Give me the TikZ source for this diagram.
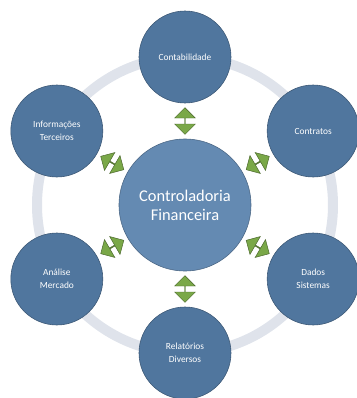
\documentclass[tikz,border=0pt]{standalone}
\usepackage{fontspec}
\setmainfont{Carlito}
\usetikzlibrary{shapes.arrows}

\definecolor{ringgray}{RGB}{223,227,235}
\definecolor{bubbleblue}{RGB}{80,118,158}
\definecolor{hubblue}{RGB}{100,138,178}
\definecolor{arrowgreen}{RGB}{122,168,72}

\begin{document}
\begin{tikzpicture}[
		bubble/.style={circle, fill=bubbleblue, draw=bubbleblue!75!black, line width=0.5pt,
			minimum size=2.76cm, inner sep=0pt, text=white, align=center,
			font=\fontsize{8}{11}\selectfont},
		hub/.style={circle, fill=hubblue, draw=hubblue!75!black, line width=0.5pt,
			minimum size=3.96cm, inner sep=0pt, text=white, align=center,
			font=\fontsize{14}{16}\selectfont},
		link/.style={double arrow, fill=arrowgreen, draw=arrowgreen!60!black, line width=0.4pt,
			minimum height=0.8cm, minimum width=0.62cm, double arrow head extend=0.14cm,
			inner sep=0pt, sloped}
	]
		\useasboundingbox (-5.55,-5.79) rectangle (5.16,6.15);
		
		% Draw the ring behind the circles
		\draw[ringgray, line width=0.3cm] (0,0) circle (4.44);
		
		% Central circle
		\node[hub] (ctrl) at (0,0) {Controladoria\\Financeira};
		
		% Outer circles around the ring
		\node[bubble] (contab) at (90:4.44) {Contabilidade};
		\node[bubble] (contr) at (30:4.44) {Contratos};
		\node[bubble] (dados) at (-30:4.44) {Dados\\Sistemas};
		\node[bubble] (relat) at (-90:4.44) {Relatórios\\Diversos};
		\node[bubble] (analise) at (-150:4.44) {Análise\\Mercado};
		\node[bubble] (info) at (150:4.44) {Informações\\Terceiros};
		
		% Green double arrows between the center and each outer circle
		\path (ctrl) -- (contab) node[link, midway] {};
		\path (ctrl) -- (contr) node[link, midway] {};
		\path (ctrl) -- (dados) node[link, midway] {};
		\path (ctrl) -- (relat) node[link, midway] {};
		\path (ctrl) -- (analise) node[link, midway] {};
		\path (ctrl) -- (info) node[link, midway] {};
		
\end{tikzpicture}
\end{document}
